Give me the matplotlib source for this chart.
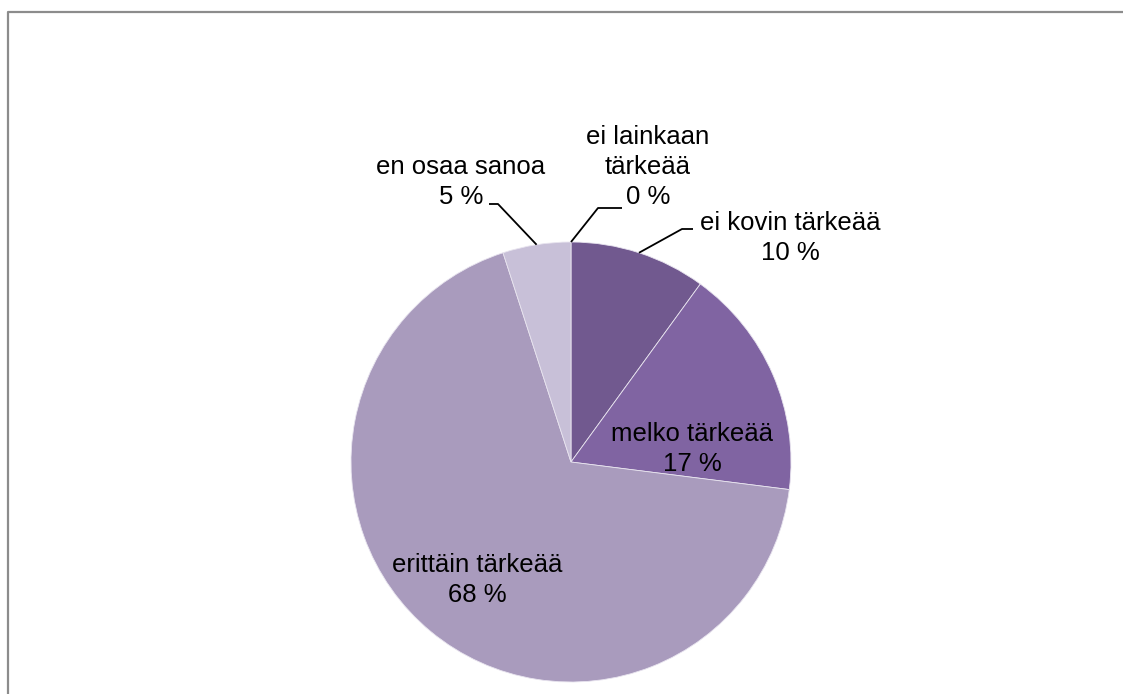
import numpy as np
import matplotlib.pyplot as plt

plt.rcParams['font.family'] = ['Liberation Sans', 'DejaVu Sans']

categories = ['ei lainkaan\ntärkeää', 'ei kovin tärkeää', 'melko tärkeää',
              'erittäin tärkeää', 'en osaa sanoa']
shares = [0, 10, 17, 68, 5]
colors = ['#4f3d6b', '#71598f', '#8064a2', '#a99bbd', '#c8c0d8']

W, H = 1123, 694
cx, cy, R = 571, 462, 220

fig = plt.figure(figsize=(W / 100, H / 100), dpi=100)
ax = fig.add_axes([0, 0, 1, 1])

wedges, _ = ax.pie(shares, colors=colors, startangle=90, counterclock=False,
                   center=(cx, H - cy), radius=R,
                   wedgeprops=dict(edgecolor='#e8e4ef', linewidth=0.6))
ax.set_xlim(0, W)
ax.set_ylim(0, H)
ax.axis('off')

# label text centres (x, y from top) and leader elbows, None = label inside
label_pos = [(648, 167), (790, 238), (692, 449), (477, 580), (461, 182)]
leaders = [[(598, 208), (622, 208)],
           [(682, 229), (693, 229)],
           None,
           None,
           [(498, 204), (489, 204)]]

for w, name, val, (tx, ty), elbow in zip(wedges, categories, shares, label_pos, leaders):
    ax.text(tx, H - ty, f'{name}\n{val} %', ha='center', va='center',
            fontsize=18.5, linespacing=1.32, color='black')
    if elbow:
        mid = np.deg2rad((w.theta1 + w.theta2) / 2)
        pts = [(cx + R * np.cos(mid), H - cy + R * np.sin(mid))]
        pts += [(x, H - y) for x, y in elbow]
        xs, ys = zip(*pts)
        ax.plot(xs, ys, color='black', lw=1.3, solid_capstyle='butt')

# chart area border, running off the right and bottom edges
ax.plot([8, 8, W + 10], [-10, H - 12, H - 12], color='#8c8c8c', lw=1.6, clip_on=False)

fig.savefig('out.png', dpi=100)
